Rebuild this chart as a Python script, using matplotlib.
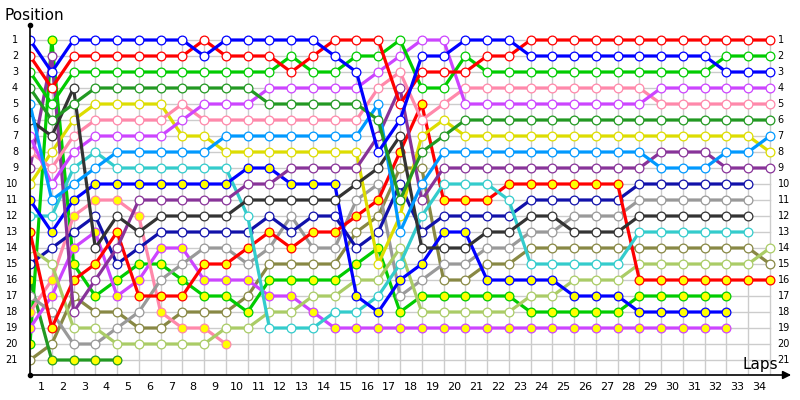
import matplotlib
matplotlib.use("Agg")
import matplotlib.pyplot as plt

# positions per lap column (col 0 = grid)
blue_w      = [1,3,1,1,1,1,1,1,2,1,1,1,1,1,2,3,8,6,2,2,1,1,1,2,2,2,2,2,2,2,2,2,3,3,3]
red_w       = [2,4,2,2,2,2,2,2,1,2,2,2,3,2,1,1,1,5,3,3,3,2,2,1,1,1,1,1,1,1,1,1,1,1,1]
green_w     = [3,5,3,3,3,3,3,3,3,3,3,3,2,3,3,2,2,1,4,4,2,3,3,3,3,3,3,3,3,3,3,3,2,2,2]
dkgreen_w   = [4,6,5,4,4,4,4,4,4,4,4,5,5,5,5,5,6,11,8,7,6,6,6,6,6,6,6,6,6,6,6,6,6,6,6]
ltblue_w    = [5,11,10,9,8,8,8,8,8,7,7,7,7,7,7,7,5,13,10,8,8,8,8,8,8,8,8,8,8,9,9,9,8,8,7]
dkgray_w    = [6,7,4,14,12,13,12,12,12,12,11,11,11,11,11,10,9,7,14,14,14,13,13,12,12,13,13,13,12,12,12,12,12,12]
violet_w    = [7,10,8,7,7,7,7,6,5,5,5,4,4,4,4,4,3,2,1,1,5,5,5,5,5,5,5,5,5,4,4,4,4,4,4]
pink_w      = [8,9,7,6,6,6,6,5,6,6,6,6,6,6,6,6,4,3,6,5,4,4,4,4,4,4,4,4,4,5,5,5,5,5,5]
purple_w    = [9,2,18,16,14,11,11,11,11,11,10,10,9,9,9,9,7,4,11,9,9,9,9,9,9,9,9,9,9,8,8,8,9,9,9]
yellow_w    = [10,8,6,5,5,5,5,7,7,8,8,8,8,8,8,8,15,12,7,6,7,7,7,7,7,7,7,7,7,7,7,7,7,7,8]
blue_y      = [11,13,11,10,10,10,10,10,10,10,9,9,10,10,10,17,18,16,15,13,13,16,16,16,16,17,17,17,18,18,18,18,18]
cyan_w      = [12,12,9,8,9,9,9,9,9,9,12,19,19,19,18,18,17,15,12,10,10,10,11,15,15,15,15,15,13,13,13,13,13,13]
red_y       = [13,19,16,15,13,17,17,17,15,15,14,13,14,13,13,12,11,8,5,11,11,11,10,10,10,10,10,10,16,16,16,16,16,16,16]
ltolive_w   = [14,15,19,19,20,20,20,20,20,19,19,18,18,17,17,16,16,14,18,18,18,18,18,17,17,16,16,16,15,15,15,15,15,15,14]
dkblue_w    = [15,14,13,12,15,14,13,13,13,13,13,12,13,12,12,14,13,10,13,12,12,12,12,11,11,11,11,11,10,10,10,10,10,10]
dkgreen_y   = [16,21,21,21,21]
gray_w      = [17,18,20,20,19,18,16,15,14,14,15,14,12,14,14,11,10,17,16,15,15,14,14,13,13,12,12,12,11,11,11,11,11,11]
pink_y      = [18,16,12,11,11,12,18,19,19,20]
violet_y    = [19,17,14,13,17,16,14,14,16,16,16,17,17,18,19,19,19,19,19,19,19,19,19,19,19,19,19,19,19,19,19,19,19]
green_y     = [20,1,15,17,16,15,15,16,17,17,18,16,16,16,16,15,14,18,17,17,17,17,17,18,18,18,18,18,17,17,17,17,17]
olive_w     = [21,20,17,18,18,19,19,18,18,18,17,15,15,15,15,13,12,9,9,16,16,15,15,14,14,14,14,14,14,14,14,14,14,14,15]

series = [
    (olive_w, "#888844", "white"),
    (dkgreen_y, "#229922", "#FFFF00"),
    (green_y, "#00CC00", "#FFFF00"),
    (violet_y, "#CC44FF", "#FFFF00"),
    (pink_y, "#FF88AA", "#FFFF00"),
    (gray_w, "#999999", "white"),
    (dkblue_w, "#1111AA", "white"),
    (ltolive_w, "#AACC66", "white"),
    (red_y, "#FF0000", "#FFFF00"),
    (cyan_w, "#33CCCC", "white"),
    (blue_y, "#0000FF", "#FFFF00"),
    (yellow_w, "#DDDD00", "white"),
    (purple_w, "#883399", "white"),
    (pink_w, "#FF88AA", "white"),
    (violet_w, "#CC44FF", "white"),
    (dkgray_w, "#333333", "white"),
    (ltblue_w, "#0099FF", "white"),
    (dkgreen_w, "#229922", "white"),
    (green_w, "#00CC00", "white"),
    (red_w, "#FF0000", "white"),
    (blue_w, "#0000FF", "white"),
]

n_laps = 34
n_pos = 21
lap_labels = [str(i) for i in range(1, n_laps + 1)]
pos_labels = [str(i) for i in range(1, n_pos + 1)]

fig = plt.figure(figsize=(8, 4), dpi=100)
ax = fig.add_axes([30/800, 25/400, 760/800, 350/400])
px_col = 740 / 34
ax.set_xlim(0, 760 / px_col)
ax.set_ylim(21 + 15/16, 1 - 15/16)

# grid
for p in range(1, n_pos + 1):
    ax.plot([0, n_laps], [p, p], color="#CCCCCC", lw=1, zorder=1)
for k in range(0, n_laps + 1):
    ax.plot([k, k], [1, 21 + 15/16], color="#CCCCCC", lw=1, zorder=1)

for i, (vals, col, face) in enumerate(series):
    xs = list(range(len(vals)))
    ax.plot(xs, vals, color=col, lw=2.3, zorder=3 + i * 0.01,
            marker="o", ms=6.3, mfc=face, mec=col, mew=0.9,
            solid_capstyle="butt", solid_joinstyle="miter")

for s in ["top", "right", "left", "bottom"]:
    ax.spines[s].set_visible(False)
ax.set_xticks([])
ax.set_yticks([])
ax.plot([0, 0], [1 - 15/16, 21 + 15/16], color="black", lw=1.2, zorder=5, clip_on=False)
ax.plot([0], [1 - 15/16], marker="o", ms=3, color="black", clip_on=False, zorder=6)
ax.plot([0], [21 + 15/16], marker="o", ms=3, color="black", clip_on=False, zorder=6)
ax.annotate("", xy=(35.1, 21 + 15/16), xytext=(0, 21 + 15/16),
            arrowprops=dict(arrowstyle="-|>", color="black", lw=1.2, mutation_scale=12),
            annotation_clip=False, zorder=6)

for i, lab in enumerate(pos_labels):
    p = i + 1
    ax.text(-0.55, p, lab, ha="right", va="center", fontsize=7, family="DejaVu Sans")
    ax.text(n_laps + 0.35, p, lab, ha="left", va="center", fontsize=7, family="DejaVu Sans")
for i, lab in enumerate(lap_labels):
    ax.text(i + 0.5, 22.7, lab, ha="center", va="center", fontsize=8, family="DejaVu Sans")

fig.text(5/800, 1 - 15/400, "Position", ha="left", va="center", fontsize=11)
fig.text(742/800, 1 - 365/400, "Laps", ha="left", va="center", fontsize=11)

fig.savefig("out.png", dpi=100)
